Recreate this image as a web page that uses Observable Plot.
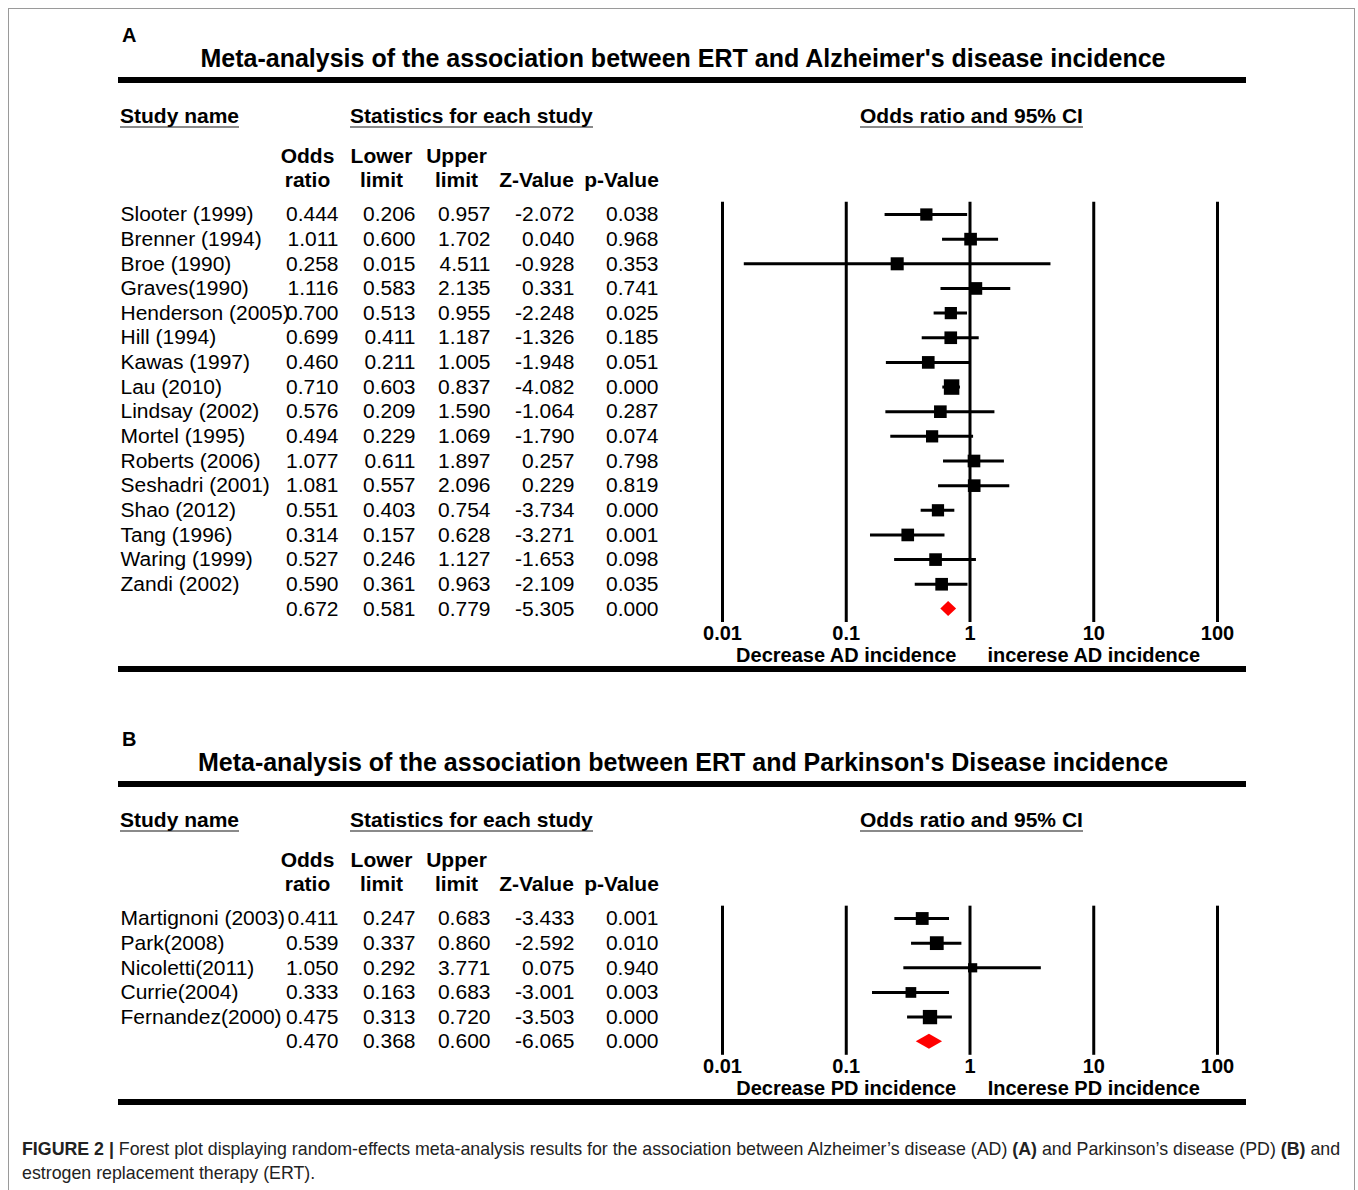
<!DOCTYPE html>
<html><head><meta charset="utf-8">
<script src="https://cdn.jsdelivr.net/npm/d3@7"></script>
<script src="https://cdn.jsdelivr.net/npm/@observablehq/plot@0.6"></script>
<style>
body{margin:0;background:#fff;}
#fig{position:relative;width:1358px;height:1190px;overflow:hidden;font-family:"Liberation Sans",Arial,Helvetica,sans-serif;color:#000;background:#fff;}
.abs{position:absolute;white-space:nowrap;line-height:1;}
.ul{border-bottom:2.5px solid #8a8a8a;}
svg{overflow:visible;}
</style></head><body><div id="fig"></div>
<script>
// ---------------- DATA ----------------
// Panel A: Alzheimer's disease
const studiesAD = ["Slooter (1999)","Brenner (1994)","Broe (1990)","Graves(1990)","Henderson (2005)","Hill (1994)","Kawas (1997)","Lau (2010)","Lindsay (2002)","Mortel (1995)","Roberts (2006)","Seshadri (2001)","Shao (2012)","Tang (1996)","Waring (1999)","Zandi (2002)"];
const oddsAD  = [0.444,1.011,0.258,1.116,0.700,0.699,0.460,0.710,0.576,0.494,1.077,1.081,0.551,0.314,0.527,0.590];
const lowerAD = [0.206,0.600,0.015,0.583,0.513,0.411,0.211,0.603,0.209,0.229,0.611,0.557,0.403,0.157,0.246,0.361];
const upperAD = [0.957,1.702,4.511,2.135,0.955,1.187,1.005,0.837,1.590,1.069,1.897,2.096,0.754,0.628,1.127,0.963];
const zAD     = [-2.072,0.040,-0.928,0.331,-2.248,-1.326,-1.948,-4.082,-1.064,-1.790,0.257,0.229,-3.734,-3.271,-1.653,-2.109];
const pAD     = [0.038,0.968,0.353,0.741,0.025,0.185,0.051,0.000,0.287,0.074,0.798,0.819,0.000,0.001,0.098,0.035];
// relative weights
const weightAD = [150,160,170,160,150,160,160,240,160,150,160,160,150,160,160,160];
const summaryAD = [0.672,0.581,0.779,-5.305,0.000];

// Panel B: Parkinson's disease
const studiesPD = ["Martignoni (2003)","Park(2008)","Nicoletti(2011)","Currie(2004)","Fernandez(2000)"];
const oddsPD  = [0.411,0.539,1.050,0.333,0.475];
const lowerPD = [0.247,0.337,0.292,0.163,0.313];
const upperPD = [0.683,0.860,3.771,0.683,0.720];
const zPD     = [-3.433,-2.592,0.075,-3.001,-3.503];
const pPD     = [0.001,0.010,0.940,0.003,0.000];
const weightPD = [165,190,85,115,205];
const summaryPD = [0.470,0.368,0.600,-6.065,0.000];

const tickValues = [0.01,0.1,1,10,100];
const columnHeaders = ["Odds\nratio","Lower\nlimit","Upper\nlimit","Z-Value","p-Value"];

// ---------------- LAYOUT ----------------
const FONT = "'Liberation Sans', Arial, Helvetica, sans-serif";
const L = {
  rowTop: 214, pitch: 24.65,
  nameX: 120,
  valRight: [338,415,490,574,658],
  headCenter: [307,381,456,536,621],
  forestLeft: 660, forestX0: 722, forestX1: 1217, forestW: 620,
  fs: 21
};

const fig = document.getElementById("fig");
function div(html, css, cls="abs"){ const d=document.createElement("div"); d.className=cls; d.innerHTML=html; d.style.cssText=css; fig.appendChild(d); return d; }

// outer frame (top/left/right)
div("", "left:8px;top:8px;width:1345px;height:1300px;border:1px solid #9a9a9a;border-bottom:none;");

function panel(top, cfg){
  const n = cfg.studies.length;
  const rows = cfg.studies.map((s,i)=>({name:s, i, or:cfg.odds[i], lo:cfg.lower[i], hi:cfg.upper[i], w:cfg.weight[i],
     vals:[cfg.odds[i],cfg.lower[i],cfg.upper[i],cfg.z[i],cfg.p[i]]}));
  const sumRow = {name:"", i:n, vals:cfg.summary};
  const allRows = rows.concat([sumRow]);
  const yRange = [L.rowTop, L.rowTop + n*L.pitch];

  // headings
  div(cfg.label, `left:122px;top:${top+25}px;font-size:20px;font-weight:bold;`);
  div(cfg.title, `left:683px;top:${top+46}px;font-size:25px;font-weight:bold;transform:translateX(-50%);`);
  div("", `left:118px;top:${top+77}px;width:1128px;height:6px;background:#000;`);
  div("Study name", `left:120px;top:${top+105}px;font-size:21px;font-weight:bold;`, "abs ul");
  div("Statistics for each study", `left:350px;top:${top+105}px;font-size:21px;font-weight:bold;`, "abs ul");
  div("Odds ratio and 95% CI", `left:860px;top:${top+105}px;font-size:21px;font-weight:bold;`, "abs ul");

  // table of statistics
  const tableMarks = [
    Plot.text(rows, {x: () => L.nameX, y: "i", text: "name", textAnchor: "start", fontSize: L.fs}),
    ...L.valRight.map((xr, c) => Plot.text(allRows, {x: () => xr, y: "i", text: d => d.vals[c].toFixed(3), textAnchor: "end", fontSize: L.fs})),
    Plot.text(columnHeaders, {x: (d,i) => L.headCenter[i], y: () => 0, dy: -27.5, text: d => d, lineAnchor: "bottom", lineHeight: 1.14, textAnchor: "middle", fontSize: L.fs, fontWeight: "bold"})
  ];
  const table = Plot.plot({
    width: 700, height: yRange[1] + 20,
    margin: 0,
    x: {type: "identity", axis: null},
    y: {type: "linear", domain: [0, n], range: yRange, axis: null},
    style: `font-family:${FONT};background:transparent;overflow:visible;`,
    marks: tableMarks
  });
  table.style.position = "absolute"; table.style.left = "0px"; table.style.top = top + "px";
  fig.appendChild(table);

  // forest plot
  const frameBottom = L.rowTop + (n + 0.55) * L.pitch;
  const fh = frameBottom + 70;
  const halfH = 7.5 / L.pitch;
  const s = cfg.summary;
  const diamond = [{x: s[1], y1: n, y2: n}, {x: s[0], y1: n - halfH, y2: n + halfH}, {x: s[2], y1: n, y2: n}];
  const dirLabels = [{x: tickValues[1], text: cfg.dec}, {x: tickValues[3], text: cfg.inc}];
  const forest = Plot.plot({
    width: L.forestW, height: fh,
    marginTop: 0, marginLeft: 0, marginRight: 0, marginBottom: fh - frameBottom,
    x: {type: "log", domain: [tickValues[0], tickValues[4]], range: [L.forestX0 - L.forestLeft, L.forestX1 - L.forestLeft]},
    y: {type: "linear", domain: [0, n], range: yRange, axis: null},
    r: {type: "sqrt", domain: [0, 225], range: [0, 15 / Math.sqrt(Math.PI)]},
    style: `font-family:${FONT};background:transparent;overflow:visible;`,
    marks: [
      Plot.ruleX(tickValues, {x: d => d, y1: () => -0.5, y2: () => n + 0.55, stroke: "#000", strokeWidth: 3}),
      Plot.axisX({ticks: tickValues, tickSize: 0, tickPadding: 3, tickFormat: d => String(d), fontSize: 20, fontWeight: "bold", fill: "#000", label: null, anchor: "bottom"}),
      Plot.ruleY(rows, {y: "i", x1: "lo", x2: "hi", stroke: "#000", strokeWidth: 3}),
      Plot.dot(rows, {x: "or", y: "i", r: "w", symbol: "square", fill: "#000", stroke: null}),
      Plot.areaY(diamond, {x: "x", y1: "y1", y2: "y2", fill: "#ff0000", curve: "linear"}),
      Plot.text(dirLabels, {x: "x", y: () => n, dy: 47, text: "text", fontSize: 20, fontWeight: "bold", textAnchor: "middle"})
    ]
  });
  forest.style.position = "absolute"; forest.style.left = L.forestLeft + "px"; forest.style.top = top + "px";
  fig.appendChild(forest);

  // bottom rule
  div("", `left:118px;top:${top + L.rowTop + n*L.pitch + 58}px;width:1128px;height:6px;background:#000;`);
}

panel(0, {label:"A", title:"Meta-analysis of the association between ERT and Alzheimer's disease incidence",
  studies: studiesAD, odds: oddsAD, lower: lowerAD, upper: upperAD, z: zAD, p: pAD, weight: weightAD, summary: summaryAD,
  dec: "Decrease AD incidence", inc: "incerese AD incidence"});
panel(704, {label:"B", title:"Meta-analysis of the association between ERT and Parkinson's Disease incidence",
  studies: studiesPD, odds: oddsPD, lower: lowerPD, upper: upperPD, z: zPD, p: pPD, weight: weightPD, summary: summaryPD,
  dec: "Decrease PD incidence", inc: "Incerese PD incidence"});

// caption
div("<b>FIGURE 2 |</b> Forest plot displaying random-effects meta-analysis results for the association between Alzheimer’s disease (AD) <b>(A)</b> and Parkinson’s disease (PD) <b>(B)</b> and<br>estrogen replacement therapy (ERT).",
  "left:22px;top:1137px;font-size:17.8px;line-height:24px;color:#222;");
</script></body></html>
